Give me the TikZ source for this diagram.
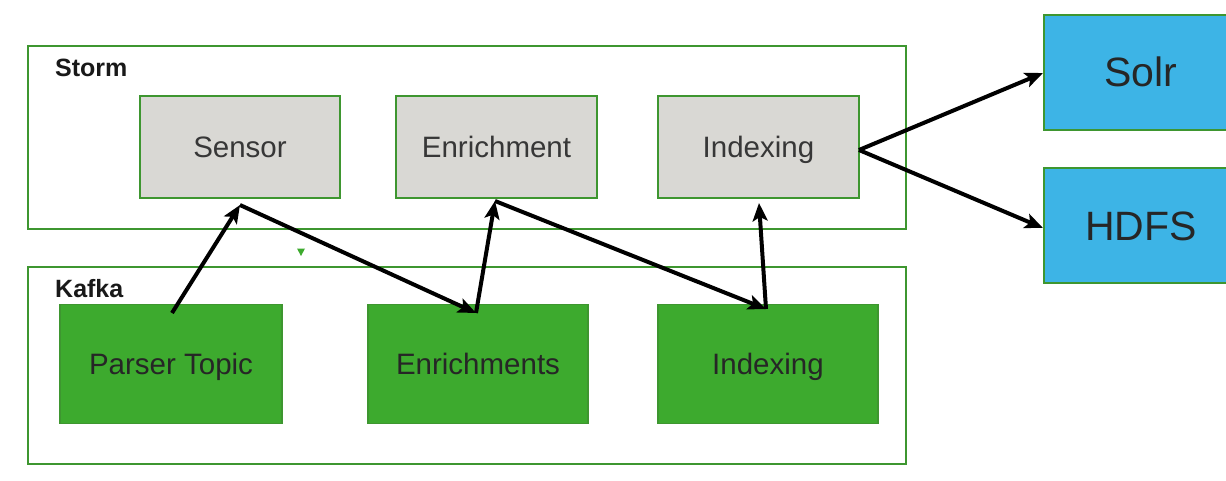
\documentclass[tikz,border=0pt]{standalone}
\usepackage{fontspec}
\setmainfont{Liberation Sans}
\usetikzlibrary{arrows.meta}
\definecolor{gborder}{RGB}{62,150,48}
\definecolor{gfill}{RGB}{61,170,46}
\definecolor{grayfill}{RGB}{217,216,212}
\definecolor{bluefill}{RGB}{61,180,230}
\definecolor{txtgray}{RGB}{55,55,55}
\begin{document}
\begin{tikzpicture}[x=1pt,y=-1pt,
  container/.style={draw=gborder, line width=2.2pt, fill=white, inner sep=0pt},
  stormbox/.style={draw=gborder, line width=2pt, fill=grayfill, inner sep=0pt,
    minimum height=102pt, text=txtgray, font=\fontsize{29.5}{34}\selectfont,
    text height=21pt, text depth=0pt},
  kafkabox/.style={draw=gborder, line width=1.6pt, fill=gfill, inner sep=0pt,
    minimum width=220pt, minimum height=119pt, text=black!85, font=\fontsize{29.5}{34}\selectfont,
    text height=21pt, text depth=0pt},
  sinkbox/.style={draw=gborder, line width=2pt, fill=bluefill, inner sep=0pt,
    minimum width=196pt, minimum height=115pt},
  sinktext/.style={text=black!85, font=\fontsize{41}{48}\selectfont, inner sep=0pt,
    text height=29.5pt, text depth=0pt},
  title/.style={font=\bfseries\fontsize{25}{29}\selectfont, anchor=west, inner sep=0pt, text=black!90,
    text height=18pt, text depth=0pt},
  flow/.style={draw=black, line width=4pt, -{Stealth[length=18pt,width=15pt,inset=4pt]}}
]
\useasboundingbox (0,0) rectangle (1226,481);
\fill[white] (0,0) rectangle (1226,481);

% containers
\node[container, minimum width=878pt, minimum height=183pt] (storm) at (467,137.5) {};
\node[container, minimum width=878pt, minimum height=197pt] (kafka) at (467,365.5) {};
\node[title] (stormlbl) at (55,68) {Storm};
\node[title] (kafkalbl) at (55,288) {Kafka};

% storm bolts
\node[stormbox, minimum width=200pt] (sensor) at (240,147) {Sensor};
\node[stormbox, minimum width=201pt] (enrich) at (496.5,147) {Enrichment};
\node[stormbox, minimum width=201pt] (indexs) at (758.5,147) {Indexing};

% kafka topics
\node[kafkabox, minimum width=222pt] (parser) at (171,364) {Parser Topic};
\node[kafkabox] (enrichk) at (478,364) {Enrichments};
\node[kafkabox] (indexk) at (768,364) {Indexing};

% sinks (extend past right edge)
\begin{scope}
\clip (0,0) rectangle (1226,481);
\node[sinkbox] (solrbox) at (1142,72.5) {};
\node[sinkbox] (hdfsbox) at (1142,225.5) {};
\end{scope}
\node[sinktext] (solr) at (1141,72) {Solr};
\node[sinktext] (hdfs) at (1141,226) {HDFS};

% small marker
\fill[gfill] (297,248.5) -- (305,248.5) -- (301,256) -- cycle;

% connector points
\coordinate (p1) at (172,313);
\coordinate (s1) at (240,205);
\coordinate (e1) at (476,313);
\coordinate (s2) at (495,201);
\coordinate (e2) at (766,309);
\coordinate (s3) at (759,203);
\coordinate (ix) at (859,150);
\coordinate (solrin) at (solrbox.west |- 0,73);
\coordinate (hdfsin) at (hdfsbox.west |- 0,228);

\draw[flow] (p1) -- (s1);
\draw[flow] (s1) -- (e1);
\draw[flow] (e1) -- (s2);
\draw[flow] (s2) -- (e2);
\draw[flow] (e2) -- (s3);
\draw[flow] (ix) -- (solrin);
\draw[flow] (ix) -- (hdfsin);
\end{tikzpicture}
\end{document}
